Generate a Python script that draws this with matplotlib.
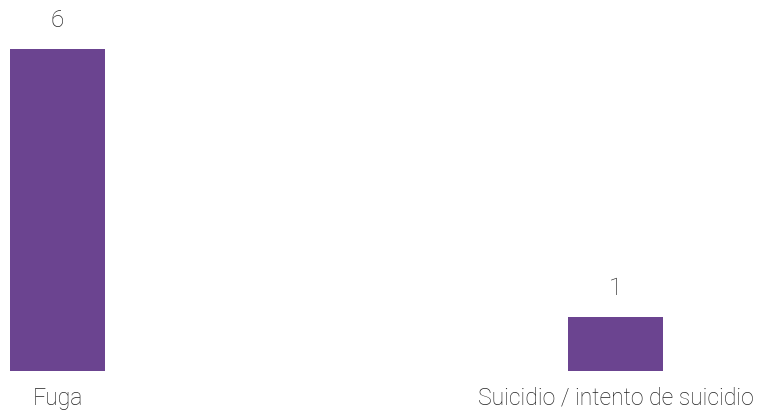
import matplotlib.pyplot as plt

categories = ["Fuga", "Suicidio / intento de suicidio"]
values = [6, 1]

bar_color = "#6B4490"
text_color = "#222222"

fig = plt.figure(figsize=(7.66, 4.12), dpi=100)
ax = fig.add_axes([0, 41 / 412, 1, 371 / 412])

x = list(range(len(categories)))
bars = ax.bar(x, values, width=0.17, color=bar_color)

ax.set_xlim(-57.5 / 558, (766 - 57.5) / 558)
ax.set_ylim(0, 371 / 53.6)

for xi, v in zip(x, values):
    ax.annotate(str(v), (xi, v), xytext=(0, 17), textcoords="offset pixels",
                ha="center", va="bottom", fontsize=17.5, family="Roboto",
                fontweight="light", color=text_color)
    ax.annotate(categories[xi], (xi, 0), xytext=(0, -16), textcoords="offset pixels",
                ha="center", va="top", fontsize=16.6, family="Roboto",
                fontweight="light", color=text_color)

ax.axis("off")
fig.savefig("out.png", dpi=100)
